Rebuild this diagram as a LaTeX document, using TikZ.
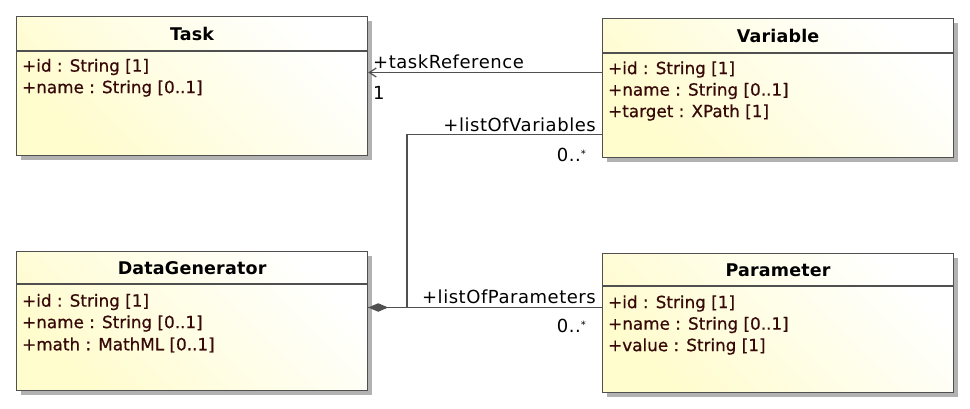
\documentclass[tikz,border=0pt]{standalone}
\usepackage{fontspec}
\setmainfont{DejaVu Sans}
\newfontfamily\attrfont[FakeBold=0.6]{DejaVu Sans}
\newfontfamily\ttlfont[LetterSpace=1]{DejaVu Sans}
\newfontfamily\lblfont[LetterSpace=3]{DejaVu Sans}
\usetikzlibrary{arrows.meta,shadows}
\definecolor{boxyellow}{RGB}{255,252,205}
\definecolor{edgegray}{RGB}{80,80,80}
\definecolor{attrcol}{RGB}{55,8,8}
\definecolor{shadowgray}{RGB}{178,178,178}
\tikzset{
  classbox/.style={draw=edgegray, line width=1.2pt, rectangle, anchor=north west,
    left color=boxyellow, right color=white, shading angle=135,
    drop shadow={shadow xshift=4pt, shadow yshift=-4pt, fill=shadowgray, opacity=1},
    minimum width=351pt, minimum height=139pt, inner sep=0pt},
  sepline/.style={draw=edgegray, line width=1.2pt},
  ttl/.style={font=\ttlfont\bfseries\fontsize{17.5}{20}\selectfont, text=black, inner sep=0pt},
  attrtxt/.style={font=\attrfont\fontsize{16.8}{20}\selectfont, text=attrcol, anchor=west, inner sep=0pt},
  lbl/.style={font=\lblfont\fontsize{18}{21}\selectfont, text=black, inner sep=0pt},
  conn/.style={draw=edgegray, line width=1.3pt},
}
\newcommand{\mystar}{\raisebox{4.5pt}{\fontsize{10}{10}\selectfont *}}
\begin{document}
\begin{tikzpicture}[x=1pt, y=-1pt]
\useasboundingbox (0,0) rectangle (970,409);

% Task
\node[classbox] (task) at (16,16) {};
\draw[sepline] (task.west |- 0,51) -- (task.east |- 0,51);
\node[ttl] (taskT) at (task.north |- 0,34) {Task};
\node[attrtxt] (taskA1) at (22,67) {+id : String [1]};
\node[attrtxt] (taskA2) at (22,88.5) {+name : String [0..1]};

% Variable
\node[classbox] (var) at (602,18) {};
\draw[sepline] (var.west |- 0,53) -- (var.east |- 0,53);
\node[ttl] (varT) at (var.north |- 0,36) {Variable};
\node[attrtxt] (varA1) at (608,69.5) {+id : String [1]};
\node[attrtxt] (varA2) at (608,91) {+name : String [0..1]};
\node[attrtxt] (varA3) at (608,112.5) {+target : XPath [1]};

% DataGenerator
\node[classbox] (dg) at (16,251) {};
\draw[sepline] (dg.west |- 0,284) -- (dg.east |- 0,284);
\node[ttl] (dgT) at (dg.north |- 0,268) {DataGenerator};
\node[attrtxt] (dgA1) at (22,302) {+id : String [1]};
\node[attrtxt] (dgA2) at (22,323.5) {+name : String [0..1]};
\node[attrtxt] (dgA3) at (22,345) {+math : MathML [0..1]};

% Parameter
\node[classbox] (par) at (602,253) {};
\draw[sepline] (par.west |- 0,286) -- (par.east |- 0,286);
\node[ttl] (parT) at (par.north |- 0,270.5) {Parameter};
\node[attrtxt] (parA1) at (608,303.5) {+id : String [1]};
\node[attrtxt] (parA2) at (608,325) {+name : String [0..1]};
\node[attrtxt] (parA3) at (608,346.5) {+value : String [1]};

% connectors
\coordinate (trY) at (0,72.5);
\coordinate (lvY) at (0,134.5);
\coordinate (lvX) at (407,0);
\coordinate (cmpY) at (0,307.5);

\draw[conn, -{Straight Barb[length=7pt,width=9pt,line width=1.2pt]}] (var.west |- trY) -- (task.east |- trY);
\draw[conn] (var.west |- lvY) -| (lvX |- cmpY) -- (dg.east |- cmpY);
\draw[conn, -{Diamond[length=20pt,width=8.5pt,fill=edgegray]}] (par.west |- cmpY) -- (dg.east |- cmpY);

% labels
\node[lbl, anchor=west] (lTR) at (373,62) {+taskReference};
\node[lbl, anchor=west] (lTR1) at (373,92.5) {1};
\node[lbl, anchor=east] (lLV) at (596,124.5) {+listOfVariables};
\node[lbl, anchor=east] (lLVm) at (586,155) {0..\mystar};
\node[lbl, anchor=east] (lLP) at (596,297) {+listOfParameters};
\node[lbl, anchor=east] (lLPm) at (586,326) {0..\mystar};
\end{tikzpicture}
\end{document}
